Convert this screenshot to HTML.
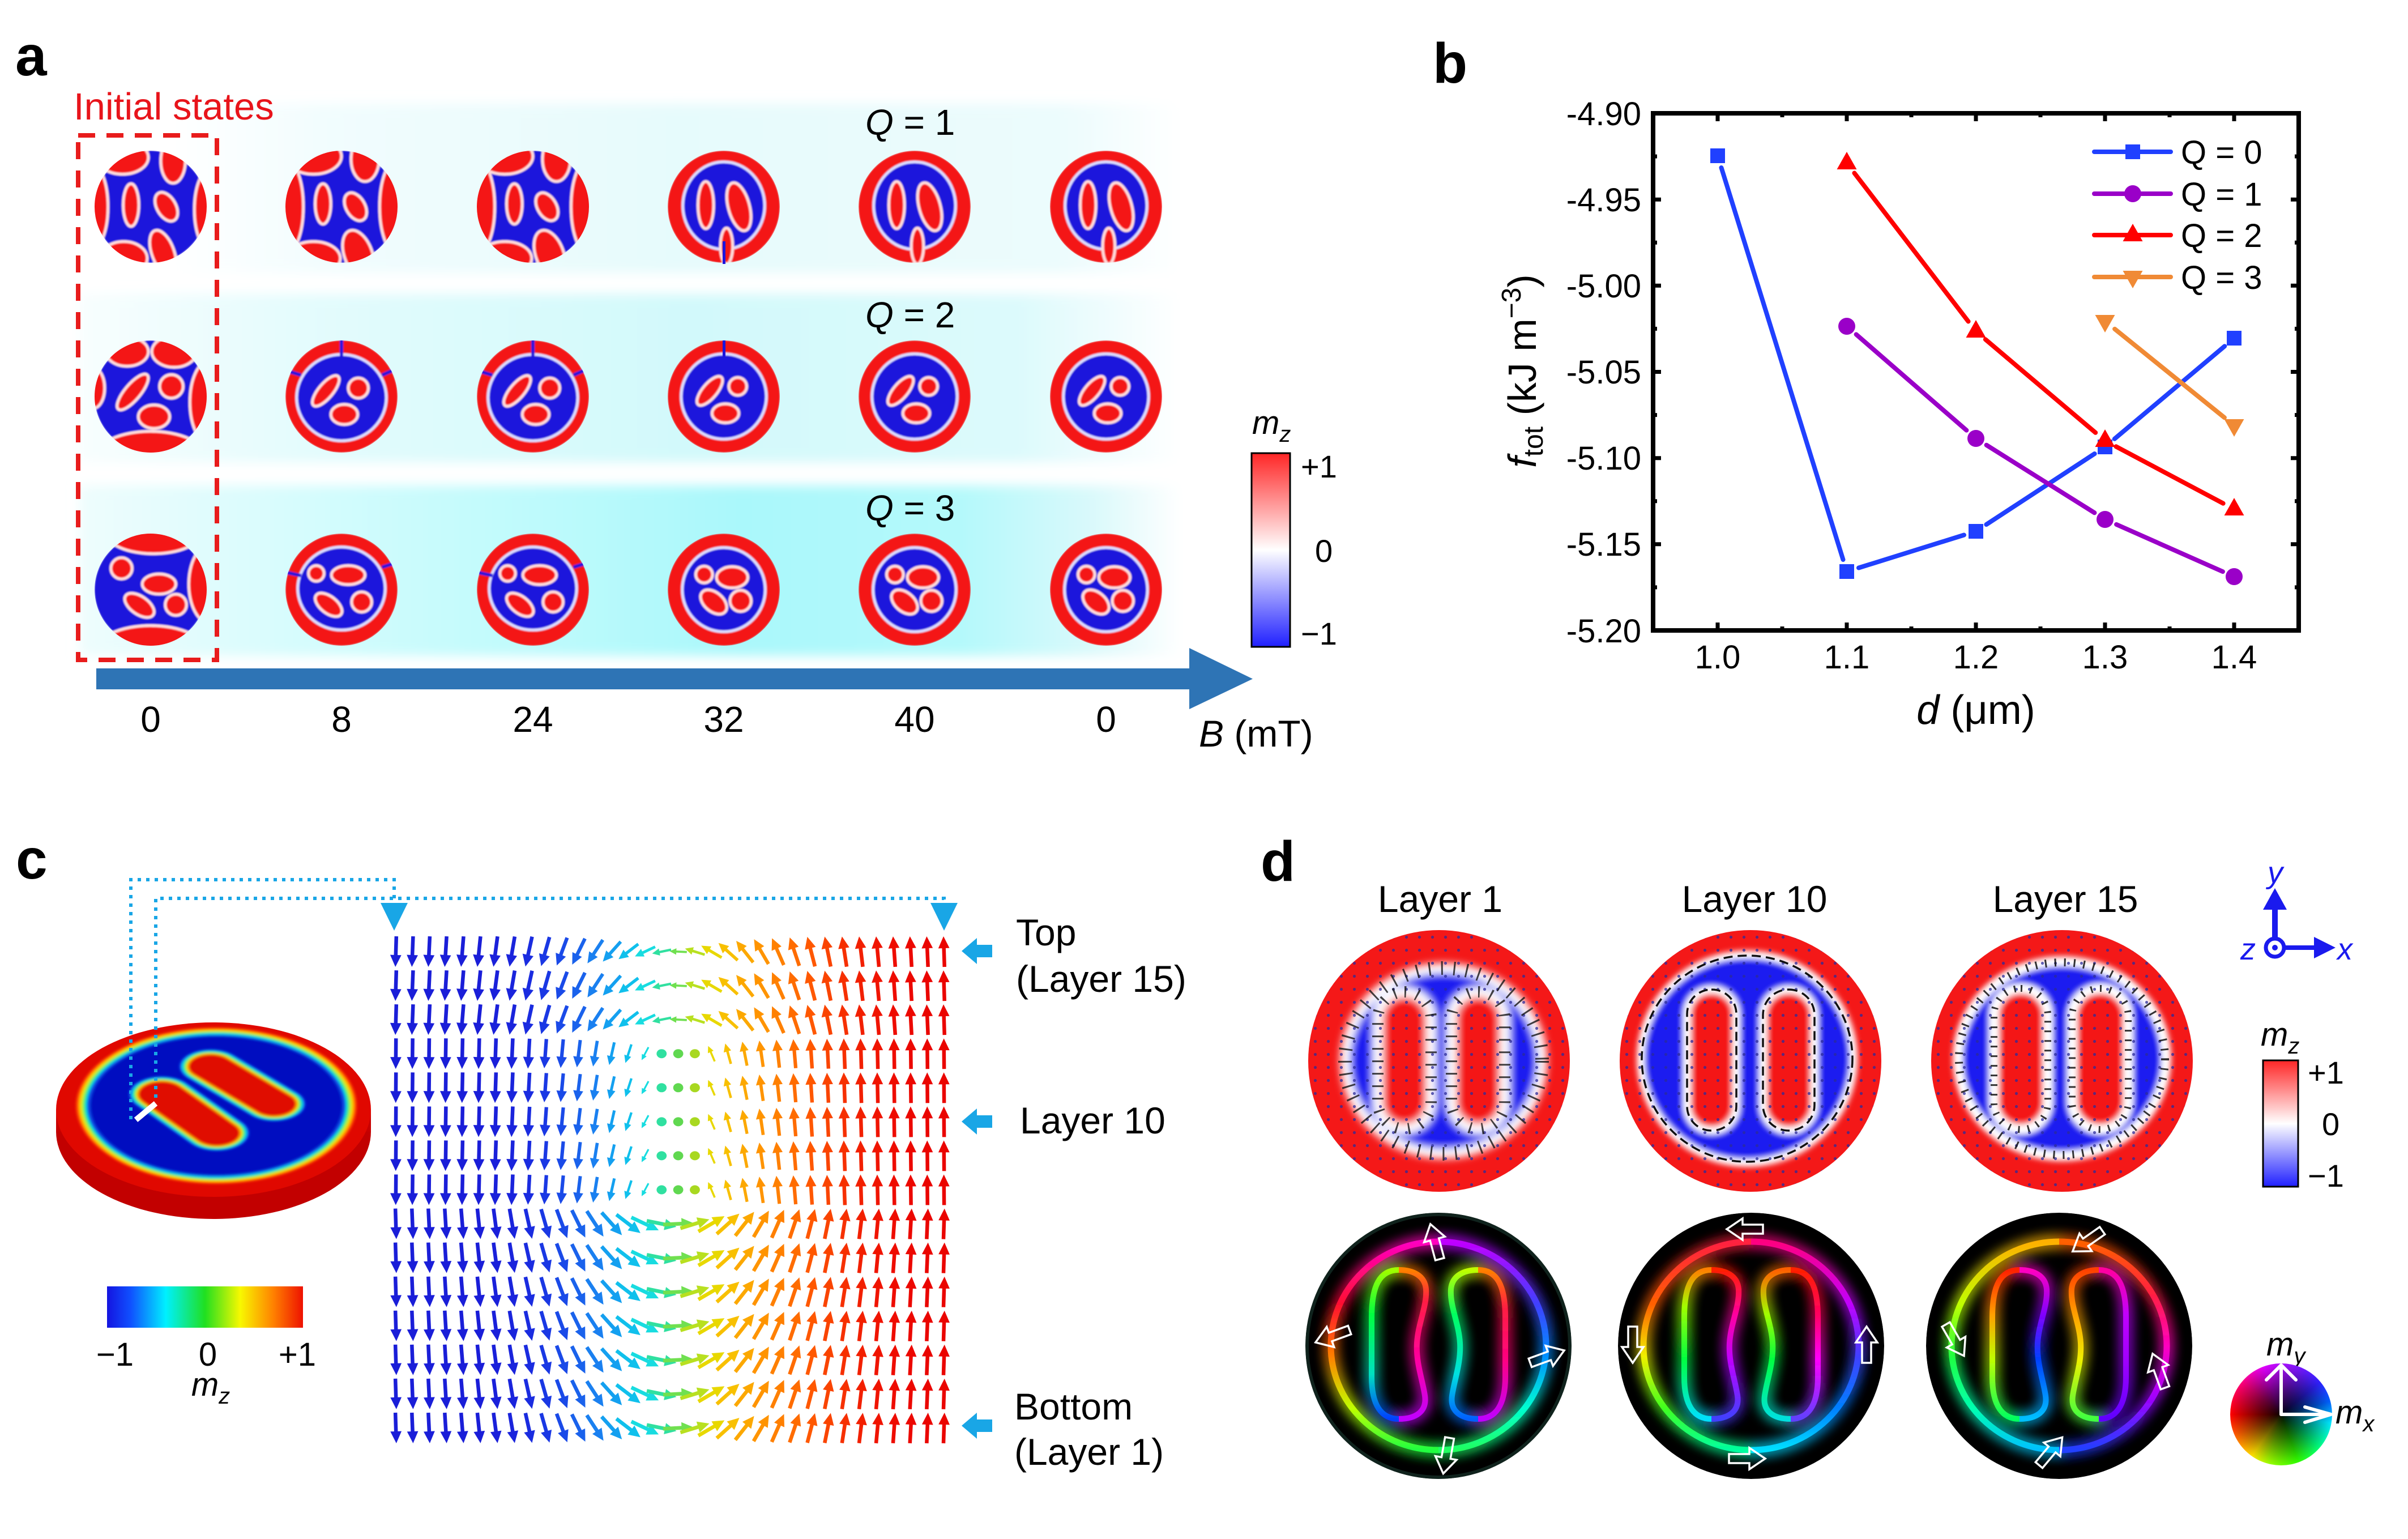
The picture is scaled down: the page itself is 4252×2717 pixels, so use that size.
<!DOCTYPE html>
<html><head><meta charset="utf-8"><style>
html,body{margin:0;padding:0;background:#fff;width:4252px;height:2717px;overflow:hidden}
svg{position:absolute;left:0;top:0}
#wheel{position:absolute;left:3938px;top:2407px;width:180px;height:180px;border-radius:50%;
background:radial-gradient(circle closest-side,rgba(0,0,0,.95) 0%,rgba(0,0,0,.55) 45%,rgba(0,0,0,0) 100%),conic-gradient(from 0deg,#b010ff,#3020ff 50deg,#0060ff 75deg,#00e8ff 100deg,#00ff80 130deg,#30ff00 160deg,#a0ff00 195deg,#ffe000 215deg,#ff6000 245deg,#ff0000 270deg,#ff0080 310deg,#e000ff 340deg,#b010ff)}
</style></head><body>
<svg width="4252" height="2717" viewBox="0 0 4252 2717" font-family="Liberation Sans, Arial, sans-serif">
<style>
.R{fill:#f41616;stroke:#ffdcdc;stroke-width:5}
.B{fill:#1c14dc;stroke:#dcdcff;stroke-width:5}
</style>
<defs>
<linearGradient id="bandA" x1="0" x2="1" y1="0" y2="0"><stop offset="0" stop-color="#fff"/><stop offset="0.15" stop-color="#f2fdfe"/><stop offset="0.5" stop-color="#e6fbfc"/><stop offset="0.88" stop-color="#ecfcfd"/><stop offset="1" stop-color="#fff"/></linearGradient>
<linearGradient id="bandB" x1="0" x2="1" y1="0" y2="0"><stop offset="0" stop-color="#f8fefe"/><stop offset="0.2" stop-color="#e4fcfd"/><stop offset="0.55" stop-color="#d2f9fb"/><stop offset="0.85" stop-color="#dcfafc"/><stop offset="1" stop-color="#fff"/></linearGradient>
<linearGradient id="bandC" x1="0" x2="1" y1="0" y2="0"><stop offset="0" stop-color="#eefdfd"/><stop offset="0.25" stop-color="#d0fcfd"/><stop offset="0.6" stop-color="#aaf8fb"/><stop offset="0.8" stop-color="#b4f9fb"/><stop offset="0.92" stop-color="#daf9fb"/><stop offset="1" stop-color="#fff"/></linearGradient>
<filter id="fb" x="-5%" y="-20%" width="110%" height="140%"><feGaussianBlur stdDeviation="10"/></filter>
<filter id="sb"><feGaussianBlur stdDeviation="1.3"/></filter>
<filter id="bl7" x="-10%" y="-10%" width="120%" height="120%"><feGaussianBlur stdDeviation="7"/></filter>
<filter id="bl5" x="-10%" y="-10%" width="120%" height="120%"><feGaussianBlur stdDeviation="5"/></filter>
<filter id="bl2"><feGaussianBlur stdDeviation="2"/></filter>
<filter id="glow" x="-30%" y="-30%" width="160%" height="160%"><feGaussianBlur stdDeviation="12" result="b"/><feMerge><feMergeNode in="b"/><feMergeNode in="b"/><feMergeNode in="SourceGraphic"/></feMerge></filter>
<linearGradient id="cbRWB" x1="0" y1="0" x2="0" y2="1"><stop offset="0" stop-color="#ff2626"/><stop offset="0.5" stop-color="#ffffff"/><stop offset="1" stop-color="#2020ff"/></linearGradient>
<linearGradient id="cbJet" x1="0" y1="0" x2="1" y2="0"><stop offset="0" stop-color="#1414e0"/><stop offset="0.12" stop-color="#1050ff"/><stop offset="0.3" stop-color="#00f0ff"/><stop offset="0.5" stop-color="#20e020"/><stop offset="0.68" stop-color="#f8f800"/><stop offset="0.85" stop-color="#ff8000"/><stop offset="1" stop-color="#ee1100"/></linearGradient>
<pattern id="dots" width="23" height="23" patternUnits="userSpaceOnUse"><circle cx="11.5" cy="11.5" r="2.6" fill="#2a2a9a" opacity="0.75"/></pattern>
<clipPath id="cA"><circle r="100"/></clipPath>
<clipPath id="cD"><circle r="231"/></clipPath>
<clipPath id="cDB"><circle r="235"/></clipPath>
<clipPath id="cxL"><rect x="-300" y="-300" width="300" height="600"/></clipPath>
<clipPath id="cxR"><rect x="0" y="-300" width="300" height="600"/></clipPath>
<clipPath id="caL"><rect x="-300" y="-300" width="230" height="600"/></clipPath>
<clipPath id="caR"><rect x="-70" y="-300" width="370" height="600"/></clipPath>
<clipPath id="cbL"><rect x="-300" y="-300" width="370" height="600"/></clipPath>
<clipPath id="cbR"><rect x="70" y="-300" width="230" height="600"/></clipPath>

<g id="q1a" clip-path="url(#cA)"><g filter="url(#sb)">
<circle r="100" fill="#1c14dc"/>
<ellipse cx="-50" cy="-88" rx="46" ry="30" class="R"/>
<ellipse cx="40" cy="-82" rx="22" ry="40" class="R"/>
<ellipse cx="-104" cy="0" rx="28" ry="75" class="R"/>
<ellipse cx="104" cy="5" rx="26" ry="70" class="R"/>
<ellipse cx="-48" cy="92" rx="42" ry="30" class="R"/>
<ellipse cx="22" cy="82" rx="20" ry="42" transform="rotate(-20 22 82)" class="R"/>
<ellipse cx="-35" cy="-3" rx="14" ry="38" class="R"/>
<ellipse cx="28" cy="0" rx="17" ry="28" transform="rotate(-30 28 0)" class="R"/>
</g></g>
<g id="q1b" clip-path="url(#cA)"><g filter="url(#sb)">
<circle r="100" fill="#1c14dc"/>
<ellipse cx="-100" cy="0" rx="32" ry="85" class="R"/>
<ellipse cx="100" cy="0" rx="32" ry="85" class="R"/>
<ellipse cx="-50" cy="-90" rx="50" ry="32" class="R"/>
<ellipse cx="42" cy="-85" rx="25" ry="40" class="R"/>
<ellipse cx="-50" cy="92" rx="48" ry="30" class="R"/>
<ellipse cx="30" cy="85" rx="25" ry="45" transform="rotate(-20 30 85)" class="R"/>
<ellipse cx="-33" cy="-5" rx="14" ry="36" class="R"/>
<ellipse cx="25" cy="0" rx="17" ry="27" transform="rotate(-30 25 0)" class="R"/>
</g></g>
<g id="q1c" clip-path="url(#cA)"><g filter="url(#sb)">
<circle r="100" fill="#f41616"/>
<ellipse cx="0" cy="-2" rx="73" ry="78" class="B"/>
<ellipse cx="5" cy="70" rx="11" ry="32" class="R"/>
<ellipse cx="-32" cy="-3" rx="14" ry="42" class="R"/>
<ellipse cx="27" cy="0" rx="19" ry="44" transform="rotate(-15 27 0)" class="R"/>
</g></g>
<g id="q2a" clip-path="url(#cA)"><g filter="url(#sb)">
<circle r="100" fill="#1c14dc"/>
<ellipse cx="-42" cy="-80" rx="38" ry="26" class="R"/>
<ellipse cx="42" cy="-80" rx="40" ry="28" class="R"/>
<ellipse cx="-102" cy="-15" rx="20" ry="36" class="R"/>
<ellipse cx="102" cy="10" rx="32" ry="72" class="R"/>
<ellipse cx="0" cy="108" rx="98" ry="46" class="R"/>
<ellipse cx="-32" cy="-8" rx="14" ry="40" transform="rotate(40 -32 -8)" class="R"/>
<circle cx="37" cy="-18" r="21" class="R"/>
<ellipse cx="6" cy="36" rx="28" ry="21" class="R"/>
</g></g>
<g id="q2b" clip-path="url(#cA)"><g filter="url(#sb)">
<circle r="100" fill="#f41616"/>
<ellipse cx="0" cy="2" rx="80" ry="77" class="B"/>
<rect x="-3" y="-102" width="6" height="34" fill="#1c14dc"/>
<path d="M-72,-38 L-104,-48" stroke="#1c14dc" stroke-width="6"/>
<path d="M72,-38 L104,-52" stroke="#1c14dc" stroke-width="6"/>
<ellipse cx="-28" cy="-10" rx="13" ry="34" transform="rotate(40 -28 -10)" class="R"/>
<circle cx="30" cy="-15" r="18" class="R"/>
<ellipse cx="5" cy="32" rx="24" ry="18" class="R"/>
</g></g>
<g id="q2c" clip-path="url(#cA)"><g filter="url(#sb)">
<circle r="100" fill="#f41616"/>
<ellipse cx="0" cy="0" rx="76" ry="76" class="B"/>
<ellipse cx="-25" cy="-10" rx="13" ry="32" transform="rotate(40 -25 -10)" class="R"/>
<circle cx="25" cy="-18" r="16" class="R"/>
<ellipse cx="3" cy="30" rx="24" ry="17" class="R"/>
</g></g>
<g id="q3a" clip-path="url(#cA)"><g filter="url(#sb)">
<circle r="100" fill="#1c14dc"/>
<ellipse cx="5" cy="-102" rx="85" ry="38" class="R"/>
<ellipse cx="106" cy="-10" rx="38" ry="70" class="R"/>
<ellipse cx="0" cy="112" rx="100" ry="48" class="R"/>
<circle cx="-52" cy="-38" r="19" class="R"/>
<ellipse cx="15" cy="-10" rx="30" ry="18" class="R"/>
<ellipse cx="-20" cy="28" rx="30" ry="16" transform="rotate(35 -20 28)" class="R"/>
<circle cx="45" cy="27" r="19" class="R"/>
</g></g>
<g id="q3b" clip-path="url(#cA)"><g filter="url(#sb)">
<circle r="100" fill="#f41616"/>
<ellipse cx="0" cy="-2" rx="78" ry="74" class="B"/>
<path d="M-72,-25 L-104,-32" stroke="#1c14dc" stroke-width="6"/>
<path d="M72,-40 L104,-50" stroke="#1c14dc" stroke-width="6"/>
<circle cx="-45" cy="-29" r="14" class="R"/>
<ellipse cx="12" cy="-26" rx="30" ry="17" class="R"/>
<ellipse cx="-23" cy="27" rx="28" ry="15" transform="rotate(38 -23 27)" class="R"/>
<circle cx="36" cy="22" r="18" class="R"/>
</g></g>
<g id="q3c" clip-path="url(#cA)"><g filter="url(#sb)">
<circle r="100" fill="#f41616"/>
<ellipse cx="0" cy="0" rx="74" ry="75" class="B"/>
<circle cx="-35" cy="-27" r="15" class="R"/>
<ellipse cx="15" cy="-22" rx="28" ry="19" class="R"/>
<ellipse cx="-18" cy="22" rx="27" ry="17" transform="rotate(40 -18 22)" class="R"/>
<circle cx="30" cy="20" r="19" class="R"/>
</g></g>

<path id="ar" d="M0,-27 L10,-6 L3.3,-6 L3.3,27 L-3.3,27 L-3.3,-6 L-10,-6 Z"/>

<g id="rowT">
<use href="#ar" transform="translate(702) rotate(181.8)" fill="#1a1ed8"/>
<use href="#ar" transform="translate(731.7) rotate(182.3)" fill="#1a1ed8"/>
<use href="#ar" transform="translate(761.3) rotate(182.8)" fill="#1a1ed8"/>
<use href="#ar" transform="translate(791) rotate(183.6)" fill="#1a1ed8"/>
<use href="#ar" transform="translate(820.7) rotate(184.7)" fill="#1a1ed8"/>
<use href="#ar" transform="translate(850.4) rotate(186)" fill="#1a1ed8"/>
<use href="#ar" transform="translate(880) rotate(187.7)" fill="#1a20da"/>
<use href="#ar" transform="translate(909.7) rotate(189.9)" fill="#1a24dc"/>
<use href="#ar" transform="translate(939.4) rotate(192.7)" fill="#1a2ce0"/>
<use href="#ar" transform="translate(969) rotate(196.2) scale(.99)" fill="#1a38e4"/>
<use href="#ar" transform="translate(998.7) rotate(200.7) scale(.97)" fill="#1a4ae8"/>
<use href="#ar" transform="translate(1028.4) rotate(206.4) scale(.95)" fill="#1a62ec"/>
<use href="#ar" transform="translate(1058) rotate(213.5) scale(.92)" fill="#1a80f0"/>
<use href="#ar" transform="translate(1087.7) rotate(222.3) scale(.88)" fill="#14a0f0"/>
<use href="#ar" transform="translate(1117.4) rotate(232.8) scale(.82)" fill="#10c0ec"/>
<use href="#ar" transform="translate(1147.1) rotate(245) scale(.74)" fill="#18dce0"/>
<use href="#ar" transform="translate(1176.7) rotate(258.6) scale(.64)" fill="#30e0a0"/>
<use href="#ar" transform="translate(1206.4) rotate(272.9) scale(.57)" fill="#70e050"/>
<use href="#ar" transform="translate(1236.1) rotate(-73.1) scale(.68)" fill="#b8e020"/>
<use href="#ar" transform="translate(1265.7) rotate(-60) scale(.78)" fill="#e8d800"/>
<use href="#ar" transform="translate(1295.4) rotate(-48.4) scale(.85)" fill="#f8c000"/>
<use href="#ar" transform="translate(1325.1) rotate(-38.6) scale(.9)" fill="#fca800"/>
<use href="#ar" transform="translate(1354.7) rotate(-30.5) scale(.94)" fill="#ff9400"/>
<use href="#ar" transform="translate(1384.4) rotate(-24) scale(.96)" fill="#ff8000"/>
<use href="#ar" transform="translate(1414.1) rotate(-18.8) scale(.98)" fill="#ff6c00"/>
<use href="#ar" transform="translate(1443.8) rotate(-14.7)" fill="#ff5800"/>
<use href="#ar" transform="translate(1473.4) rotate(-11.5)" fill="#fa4400"/>
<use href="#ar" transform="translate(1503.1) rotate(-8.9)" fill="#f63000"/>
<use href="#ar" transform="translate(1532.8) rotate(-7)" fill="#f22000"/>
<use href="#ar" transform="translate(1562.4) rotate(-5.4)" fill="#f01400"/>
<use href="#ar" transform="translate(1592.1) rotate(-4.2)" fill="#ee0c00"/>
<use href="#ar" transform="translate(1621.8) rotate(-3.3)" fill="#ec0800"/>
<use href="#ar" transform="translate(1651.4) rotate(-2.5)" fill="#ea0500"/>
<use href="#ar" transform="translate(1681.1) rotate(-1.9)" fill="#ea0500"/>
</g>

<g id="rowM">
<use href="#ar" transform="translate(702) rotate(180.5)" fill="#1a1ed8"/>
<use href="#ar" transform="translate(731.7) rotate(180.6)" fill="#1a1ed8"/>
<use href="#ar" transform="translate(761.3) rotate(180.7)" fill="#1a1ed8"/>
<use href="#ar" transform="translate(791) rotate(180.9)" fill="#1a1ed8"/>
<use href="#ar" transform="translate(820.7) rotate(181.2)" fill="#1a1ed8"/>
<use href="#ar" transform="translate(850.4) rotate(181.5)" fill="#1a1ed8"/>
<use href="#ar" transform="translate(880) rotate(182)" fill="#1a20da"/>
<use href="#ar" transform="translate(909.7) rotate(182.5)" fill="#1a24dc"/>
<use href="#ar" transform="translate(939.4) rotate(183.2) scale(.98)" fill="#1a2ce0"/>
<use href="#ar" transform="translate(969) rotate(184.2) scale(.96)" fill="#1a38e4"/>
<use href="#ar" transform="translate(998.7) rotate(185.4) scale(.94)" fill="#1a4ae8"/>
<use href="#ar" transform="translate(1028.4) rotate(187.1) scale(.9)" fill="#1a62ec"/>
<use href="#ar" transform="translate(1058) rotate(189.4) scale(.85)" fill="#1a80f0"/>
<use href="#ar" transform="translate(1087.7) rotate(192.8) scale(.76)" fill="#14a0f0"/>
<use href="#ar" transform="translate(1117.4) rotate(198.2) scale(.64)" fill="#10c0ec"/>
<use href="#ar" transform="translate(1147.1) rotate(208.3) scale(.48)" fill="#18dce0"/>
<ellipse cx="1176.7" cy="0" rx="9" ry="8" fill="#30e0a0"/>
<ellipse cx="1206.4" cy="0" rx="9" ry="8" fill="#60d850"/>
<ellipse cx="1236.1" cy="0" rx="9" ry="8" fill="#a8d820"/>
<use href="#ar" transform="translate(1265.7) rotate(-23.4) scale(.55)" fill="#e8d800"/>
<use href="#ar" transform="translate(1295.4) rotate(-15.7) scale(.69)" fill="#f8c000"/>
<use href="#ar" transform="translate(1325.1) rotate(-11.3) scale(.8)" fill="#fca800"/>
<use href="#ar" transform="translate(1354.7) rotate(-8.4) scale(.87)" fill="#ff9400"/>
<use href="#ar" transform="translate(1384.4) rotate(-6.3) scale(.92)" fill="#ff8000"/>
<use href="#ar" transform="translate(1414.1) rotate(-4.9) scale(.95)" fill="#ff6c00"/>
<use href="#ar" transform="translate(1443.8) rotate(-3.8) scale(.97)" fill="#ff5800"/>
<use href="#ar" transform="translate(1473.4) rotate(-2.9) scale(.98)" fill="#fa4400"/>
<use href="#ar" transform="translate(1503.1) rotate(-2.2)" fill="#f63000"/>
<use href="#ar" transform="translate(1532.8) rotate(-1.8)" fill="#f22000"/>
<use href="#ar" transform="translate(1562.4) rotate(-1.3)" fill="#f01400"/>
<use href="#ar" transform="translate(1592.1) rotate(-1)" fill="#ee0c00"/>
<use href="#ar" transform="translate(1621.8) rotate(-0.8)" fill="#ec0800"/>
<use href="#ar" transform="translate(1651.4) rotate(-0.6)" fill="#ea0500"/>
<use href="#ar" transform="translate(1681.1) rotate(-0.5)" fill="#ea0500"/>
</g>

<g id="rowB">
<use href="#ar" transform="translate(702) rotate(178.2)" fill="#1a1ed8"/>
<use href="#ar" transform="translate(731.7) rotate(177.7)" fill="#1a1ed8"/>
<use href="#ar" transform="translate(761.3) rotate(177.2)" fill="#1a1ed8"/>
<use href="#ar" transform="translate(791) rotate(176.4)" fill="#1a1ed8"/>
<use href="#ar" transform="translate(820.7) rotate(175.3)" fill="#1a1ed8"/>
<use href="#ar" transform="translate(850.4) rotate(174)" fill="#1a1ed8"/>
<use href="#ar" transform="translate(880) rotate(172.3)" fill="#1a20da"/>
<use href="#ar" transform="translate(909.7) rotate(170.1)" fill="#1a24dc"/>
<use href="#ar" transform="translate(939.4) rotate(167.3)" fill="#1a2ce0"/>
<use href="#ar" transform="translate(969) rotate(163.8)" fill="#1a38e4"/>
<use href="#ar" transform="translate(998.7) rotate(159.3)" fill="#1a4ae8"/>
<use href="#ar" transform="translate(1028.4) rotate(153.6)" fill="#1a62ec"/>
<use href="#ar" transform="translate(1058) rotate(146.5)" fill="#1a80f0"/>
<use href="#ar" transform="translate(1087.7) rotate(137.7)" fill="#14a0f0"/>
<use href="#ar" transform="translate(1117.4) rotate(127.2)" fill="#10c0ec"/>
<use href="#ar" transform="translate(1147.1) rotate(115)" fill="#18dce0"/>
<use href="#ar" transform="translate(1176.7) rotate(101.4)" fill="#30e0a0"/>
<use href="#ar" transform="translate(1206.4) rotate(87.1)" fill="#70e050"/>
<use href="#ar" transform="translate(1236.1) rotate(73.1)" fill="#b8e020"/>
<use href="#ar" transform="translate(1265.7) rotate(60)" fill="#e8d800"/>
<use href="#ar" transform="translate(1295.4) rotate(48.4)" fill="#f8c000"/>
<use href="#ar" transform="translate(1325.1) rotate(38.6)" fill="#fca800"/>
<use href="#ar" transform="translate(1354.7) rotate(30.5)" fill="#ff9400"/>
<use href="#ar" transform="translate(1384.4) rotate(24)" fill="#ff8000"/>
<use href="#ar" transform="translate(1414.1) rotate(18.8)" fill="#ff6c00"/>
<use href="#ar" transform="translate(1443.8) rotate(14.7)" fill="#ff5800"/>
<use href="#ar" transform="translate(1473.4) rotate(11.5)" fill="#fa4400"/>
<use href="#ar" transform="translate(1503.1) rotate(8.9)" fill="#f63000"/>
<use href="#ar" transform="translate(1532.8) rotate(7)" fill="#f22000"/>
<use href="#ar" transform="translate(1562.4) rotate(5.4)" fill="#f01400"/>
<use href="#ar" transform="translate(1592.1) rotate(4.2)" fill="#ee0c00"/>
<use href="#ar" transform="translate(1621.8) rotate(3.3)" fill="#ec0800"/>
<use href="#ar" transform="translate(1651.4) rotate(2.5)" fill="#ea0500"/>
<use href="#ar" transform="translate(1681.1) rotate(1.9)" fill="#ea0500"/>
</g>

<ellipse id="oLoop" rx="190" ry="184" fill="none" stroke-width="11"/>
<path id="aLoop" fill="none" stroke-width="10" d="M-70,-134 C-104,-134 -118,-106 -118,-50 L-118,55 C-118,106 -100,129 -70,129 C-40,129 -20,116 -24,88 C-28,60 -40,30 -38,-5 C-36,-40 -20,-70 -22,-100 C-24,-124 -45,-134 -70,-134 Z"/>
<path id="bLoop" fill="none" stroke-width="10" d="M70,-134 C104,-134 118,-106 118,-50 L118,55 C118,106 100,129 70,129 C40,129 20,116 24,88 C28,60 40,30 38,-5 C36,-40 20,-70 22,-100 C24,-124 45,-134 70,-134 Z"/>
<path id="hArr" d="M-32,-8 L4,-8 L4,-19 L32,0 L4,19 L4,8 L-32,8 Z" fill="none" stroke="#fff" stroke-width="3.5"/>

<linearGradient id="g1oL" x1="0" y1="0" x2="0" y2="1"><stop offset="0" stop-color="#ff00c0"/><stop offset=".3" stop-color="#ff1030"/><stop offset=".55" stop-color="#ff8000"/><stop offset=".8" stop-color="#c0ff00"/><stop offset="1" stop-color="#20ff40"/></linearGradient>
<linearGradient id="g1oR" x1="0" y1="0" x2="0" y2="1"><stop offset="0" stop-color="#c000ff"/><stop offset=".3" stop-color="#4040ff"/><stop offset=".55" stop-color="#0090ff"/><stop offset=".8" stop-color="#00ffd0"/><stop offset="1" stop-color="#20ff60"/></linearGradient>
<linearGradient id="g1aL" x1="0" y1="0" x2="0" y2="1"><stop offset="0" stop-color="#a0ff00"/><stop offset=".3" stop-color="#00ff40"/><stop offset=".7" stop-color="#00e0c0"/><stop offset="1" stop-color="#0040ff"/></linearGradient>
<linearGradient id="g1aR" x1="0" y1="0" x2="0" y2="1"><stop offset="0" stop-color="#ff8000"/><stop offset=".2" stop-color="#ff2040"/><stop offset=".6" stop-color="#ff00a0"/><stop offset="1" stop-color="#c000ff"/></linearGradient>
<linearGradient id="g1bL" x1="0" y1="0" x2="0" y2="1"><stop offset="0" stop-color="#c0ff00"/><stop offset=".3" stop-color="#00ff60"/><stop offset=".7" stop-color="#00e0e0"/><stop offset="1" stop-color="#0060ff"/></linearGradient>
<linearGradient id="g1bR" x1="0" y1="0" x2="0" y2="1"><stop offset="0" stop-color="#ff8000"/><stop offset=".25" stop-color="#ff2040"/><stop offset=".6" stop-color="#ff0080"/><stop offset="1" stop-color="#c000ff"/></linearGradient>
<linearGradient id="g2oL" x1="0" y1="0" x2="0" y2="1"><stop offset="0" stop-color="#ff2040"/><stop offset=".3" stop-color="#ff6000"/><stop offset=".55" stop-color="#f0f000"/><stop offset=".8" stop-color="#40ff20"/><stop offset="1" stop-color="#00ffa0"/></linearGradient>
<linearGradient id="g2oR" x1="0" y1="0" x2="0" y2="1"><stop offset="0" stop-color="#ff0080"/><stop offset=".3" stop-color="#c000ff"/><stop offset=".55" stop-color="#4040ff"/><stop offset=".8" stop-color="#0080ff"/><stop offset="1" stop-color="#00e0ff"/></linearGradient>
<linearGradient id="g2aL" x1="0" y1="0" x2="0" y2="1"><stop offset="0" stop-color="#ff8000"/><stop offset=".25" stop-color="#a0ff00"/><stop offset=".6" stop-color="#00ff40"/><stop offset="1" stop-color="#00e0ff"/></linearGradient>
<linearGradient id="g2aR" x1="0" y1="0" x2="0" y2="1"><stop offset="0" stop-color="#ff2000"/><stop offset=".3" stop-color="#ff00a0"/><stop offset=".6" stop-color="#c000ff"/><stop offset="1" stop-color="#4040ff"/></linearGradient>
<linearGradient id="g2bL" x1="0" y1="0" x2="0" y2="1"><stop offset="0" stop-color="#ff6000"/><stop offset=".3" stop-color="#a0ff00"/><stop offset=".6" stop-color="#00ff40"/><stop offset="1" stop-color="#00e0e0"/></linearGradient>
<linearGradient id="g2bR" x1="0" y1="0" x2="0" y2="1"><stop offset="0" stop-color="#ff2000"/><stop offset=".3" stop-color="#ff0060"/><stop offset=".6" stop-color="#ff00ff"/><stop offset="1" stop-color="#6040ff"/></linearGradient>
<linearGradient id="g3oL" x1="0" y1="0" x2="0" y2="1"><stop offset="0" stop-color="#ffb000"/><stop offset=".3" stop-color="#c0ff00"/><stop offset=".55" stop-color="#20ff40"/><stop offset=".8" stop-color="#00ffb0"/><stop offset="1" stop-color="#00c0ff"/></linearGradient>
<linearGradient id="g3oR" x1="0" y1="0" x2="0" y2="1"><stop offset="0" stop-color="#ff6000"/><stop offset=".25" stop-color="#ff2040"/><stop offset=".5" stop-color="#ff00c0"/><stop offset=".75" stop-color="#a000ff"/><stop offset="1" stop-color="#2040ff"/></linearGradient>
<linearGradient id="g3aL" x1="0" y1="0" x2="0" y2="1"><stop offset="0" stop-color="#ff2000"/><stop offset=".3" stop-color="#ffa000"/><stop offset=".6" stop-color="#c0ff00"/><stop offset="1" stop-color="#00ff60"/></linearGradient>
<linearGradient id="g3aR" x1="0" y1="0" x2="0" y2="1"><stop offset="0" stop-color="#ff00c0"/><stop offset=".3" stop-color="#8000ff"/><stop offset=".6" stop-color="#0040ff"/><stop offset="1" stop-color="#00c0ff"/></linearGradient>
<linearGradient id="g3bL" x1="0" y1="0" x2="0" y2="1"><stop offset="0" stop-color="#ff4000"/><stop offset=".3" stop-color="#ffa000"/><stop offset=".6" stop-color="#f0f000"/><stop offset="1" stop-color="#40ff40"/></linearGradient>
<linearGradient id="g3bR" x1="0" y1="0" x2="0" y2="1"><stop offset="0" stop-color="#ff00a0"/><stop offset=".3" stop-color="#c000ff"/><stop offset=".6" stop-color="#a000ff"/><stop offset="1" stop-color="#6000ff"/></linearGradient>
</defs>

<!-- ================= PANEL A ================= -->
<g filter="url(#fb)">
<rect x="300" y="183" width="1786" height="299" fill="url(#bandA)"/>
<rect x="140" y="519" width="1946" height="297" fill="url(#bandB)"/>
<rect x="140" y="857" width="1946" height="301" fill="url(#bandC)"/>
</g>
<text x="27" y="133" font-size="100" font-weight="bold">a</text>
<text x="130" y="211" font-size="67" fill="#e8141b">Initial states</text>
<text x="1528" y="238" font-size="64"><tspan font-style="italic">Q</tspan> = 1</text>
<text x="1528" y="578" font-size="64"><tspan font-style="italic">Q</tspan> = 2</text>
<text x="1528" y="919" font-size="64"><tspan font-style="italic">Q</tspan> = 3</text>

<use href="#q1a" transform="translate(266,365) scale(.99)"/>
<use href="#q1b" transform="translate(603,365) scale(.99)"/>
<use href="#q1b" transform="translate(941,365) scale(.99)"/>
<use href="#q1c" transform="translate(1278,365) scale(.99)"/>
<rect x="1276" y="426" width="5" height="40" fill="#1c14dc"/>
<use href="#q1c" transform="translate(1615,365) scale(.99)"/>
<use href="#q1c" transform="translate(1953,365) scale(.99)"/>

<use href="#q2a" transform="translate(266,700) scale(.99)"/>
<use href="#q2b" transform="translate(603,700) scale(.99)"/>
<use href="#q2b" transform="translate(941,700) scale(.99)"/>
<use href="#q2c" transform="translate(1278,700) scale(.99)"/>
<rect x="1276" y="601" width="5" height="30" fill="#1c14dc"/>
<use href="#q2c" transform="translate(1615,700) scale(.99)"/>
<use href="#q2c" transform="translate(1953,700) scale(.99)"/>

<use href="#q3a" transform="translate(266,1041) scale(.99)"/>
<use href="#q3b" transform="translate(603,1041) scale(.99)"/>
<use href="#q3b" transform="translate(941,1041) scale(.99)"/>
<use href="#q3c" transform="translate(1278,1041) scale(.99)"/>
<use href="#q3c" transform="translate(1615,1041) scale(.99)"/>
<use href="#q3c" transform="translate(1953,1041) scale(.99)"/>

<rect x="138" y="239" width="245" height="926" fill="none" stroke="#e81c1c" stroke-width="8" stroke-dasharray="30 20"/>
<rect x="170" y="1180" width="1935" height="37" fill="#2e74b5"/>
<polygon points="2100,1144 2212,1198.5 2100,1252" fill="#2e74b5"/>
<g font-size="64" text-anchor="middle">
<text x="266" y="1292">0</text><text x="603" y="1292">8</text><text x="941" y="1292">24</text>
<text x="1278" y="1292">32</text><text x="1615" y="1292">40</text><text x="1953" y="1292">0</text>
</g>
<text x="2117" y="1318" font-size="66"><tspan font-style="italic">B</tspan> (mT)</text>

<text x="2211" y="766" font-size="58" font-style="italic">m<tspan font-size="40" dy="14">z</tspan></text>
<rect x="2210" y="800" width="68" height="342" fill="url(#cbRWB)" stroke="#000" stroke-width="3"/>
<g font-size="56"><text x="2297" y="843">+1</text><text x="2322" y="992">0</text><text x="2297" y="1138">−1</text></g>

<!-- ================= PANEL B ================= -->
<text x="2530" y="146" font-size="100" font-weight="bold">b</text>
<g stroke="#000" stroke-width="7">
<path d="M3033,1113 V1099 M3261,1113 V1099 M3489,1113 V1099 M3717,1113 V1099 M3945,1113 V1099"/>
<path d="M3033,200 V214 M3261,200 V214 M3489,200 V214 M3717,200 V214 M3945,200 V214"/>
<path d="M3147,1113 V1106 M3375,1113 V1106 M3603,1113 V1106 M3831,1113 V1106"/>
<path d="M3147,200 V207 M3375,200 V207 M3603,200 V207 M3831,200 V207"/>
<path d="M2919,352.2 H2933 M2919,504.3 H2933 M2919,656.5 H2933 M2919,808.7 H2933 M2919,960.8 H2933"/>
<path d="M4059,352.2 H4045 M4059,504.3 H4045 M4059,656.5 H4045 M4059,808.7 H4045 M4059,960.8 H4045"/>
<path d="M2919,276.1 H2926 M2919,428.3 H2926 M2919,580.4 H2926 M2919,732.6 H2926 M2919,884.8 H2926 M2919,1036.9 H2926"/>
<path d="M4059,276.1 H4052 M4059,428.3 H4052 M4059,580.4 H4052 M4059,732.6 H4052 M4059,884.8 H4052 M4059,1036.9 H4052"/>
</g>
<rect x="2919" y="200" width="1140" height="913" fill="none" stroke="#000" stroke-width="8"/>
<g font-size="58" text-anchor="end">
<text x="2898" y="221">-4.90</text><text x="2898" y="373">-4.95</text><text x="2898" y="525">-5.00</text>
<text x="2898" y="677">-5.05</text><text x="2898" y="829">-5.10</text><text x="2898" y="981">-5.15</text>
<text x="2898" y="1134">-5.20</text>
</g>
<g font-size="58" text-anchor="middle">
<text x="3033" y="1180">1.0</text><text x="3261" y="1180">1.1</text><text x="3489" y="1180">1.2</text>
<text x="3717" y="1180">1.3</text><text x="3945" y="1180">1.4</text>
</g>
<text x="3489" y="1278" font-size="72" text-anchor="middle"><tspan font-style="italic">d</tspan> (μm)</text>
<text transform="translate(2712,655) rotate(-90)" font-size="70" text-anchor="middle"><tspan font-style="italic">f</tspan><tspan font-size="48" dy="12">tot</tspan><tspan dy="-12"> (kJ m</tspan><tspan font-size="48" dy="-27">−3</tspan><tspan dy="27">)</tspan></text>

<g stroke-width="8" stroke-linecap="round" fill="none">
<path stroke="#2040ff" d="M3039.5,296 L3254.5,988 M3282,1002.5 L3468,944.5 M3507.4,926 L3698.6,801 M3733.8,774.8 L3928.2,611.2"/>
<path stroke="#9a00c8" d="M3277.6,590.4 L3472.4,759.6 M3507.6,785.7 L3698.4,905.3 M3737.1,925.9 L3924.9,1009.1"/>
<path stroke="#ff0000" d="M3274.4,305.5 L3475.6,567.5 M3505.8,599.2 L3700.2,763.8 M3736.4,788.3 L3925.6,888.7"/>
<path stroke="#f08a35" d="M3734.1,580.8 L3927.9,737.2"/>
</g>
<g fill="#2040ff">
<rect x="3020" y="262" width="26" height="26"/><rect x="3248" y="996" width="26" height="26"/>
<rect x="3476" y="925" width="26" height="26"/><rect x="3704" y="776" width="26" height="26"/>
<rect x="3932" y="584" width="26" height="26"/>
</g>
<g fill="#9a00c8">
<circle cx="3261" cy="576" r="15"/><circle cx="3489" cy="774" r="15"/><circle cx="3717" cy="917" r="15"/><circle cx="3945" cy="1018" r="15"/>
</g>
<g fill="#ff0000">
<polygon points="3261,268 3278.5,299 3243.5,299"/><polygon points="3489,565 3506.5,596 3471.5,596"/>
<polygon points="3717,758 3734.5,789 3699.5,789"/><polygon points="3945,879 3962.5,910 3927.5,910"/>
</g>
<g fill="#f08a35">
<polygon points="3717,587 3734.5,556 3699.5,556"/><polygon points="3945,771 3962.5,740 3927.5,740"/>
</g>
<g stroke-width="8" stroke-linecap="round">
<path d="M3698,268 H3833" stroke="#2040ff"/><path d="M3698,342 H3833" stroke="#9a00c8"/>
<path d="M3698,415 H3833" stroke="#ff0000"/><path d="M3698,489 H3833" stroke="#f08a35"/>
</g>
<rect x="3753" y="255" width="26" height="26" fill="#2040ff"/>
<circle cx="3766" cy="342" r="15" fill="#9a00c8"/>
<polygon points="3766,395 3783.5,426 3748.5,426" fill="#ff0000"/>
<polygon points="3766,509 3783.5,478 3748.5,478" fill="#f08a35"/>
<g font-size="58">
<text x="3851" y="289">Q = 0</text><text x="3851" y="363">Q = 1</text>
<text x="3851" y="436">Q = 2</text><text x="3851" y="510">Q = 3</text>
</g>

<!-- ================= PANEL C ================= -->
<text x="28" y="1551" font-size="100" font-weight="bold">c</text>
<ellipse cx="377" cy="1998" rx="278" ry="154" fill="#c20000"/>
<rect x="99" y="1959" width="556" height="39" fill="#c80000"/>
<ellipse cx="377" cy="1959" rx="278" ry="154" fill="#e00800"/>
<g transform="translate(382,1952)" filter="url(#bl2)">
<ellipse rx="248" ry="138" fill="#ff5000"/>
<ellipse rx="243" ry="135" fill="#ffc000"/>
<ellipse rx="239" ry="132" fill="#c0f020"/>
<ellipse rx="235" ry="130" fill="#30e880"/>
<ellipse rx="231" ry="128" fill="#00c8f0"/>
<ellipse rx="228" ry="125" fill="#0a40e0"/>
<ellipse rx="222" ry="122" fill="#0008c0"/>
</g>
<g filter="url(#bl2)">
<g transform="translate(334,1966) scale(1,0.55) rotate(52)">
<rect x="-119" y="-40" width="238" height="80" rx="40" fill="none" stroke="#0a40e0" stroke-width="36"/>
<rect x="-119" y="-40" width="238" height="80" rx="40" fill="none" stroke="#00c8f0" stroke-width="28"/>
<rect x="-119" y="-40" width="238" height="80" rx="40" fill="none" stroke="#30e880" stroke-width="21"/>
<rect x="-119" y="-40" width="238" height="80" rx="40" fill="none" stroke="#c0f020" stroke-width="14"/>
<rect x="-119" y="-40" width="238" height="80" rx="40" fill="none" stroke="#ffa000" stroke-width="8"/>
<rect x="-119" y="-40" width="238" height="80" rx="40" fill="#e00800"/>
</g>
<g transform="translate(428,1916) scale(1,0.55) rotate(47)">
<rect x="-120" y="-38" width="240" height="76" rx="38" fill="none" stroke="#0a40e0" stroke-width="36"/>
<rect x="-120" y="-38" width="240" height="76" rx="38" fill="none" stroke="#00c8f0" stroke-width="28"/>
<rect x="-120" y="-38" width="240" height="76" rx="38" fill="none" stroke="#30e880" stroke-width="21"/>
<rect x="-120" y="-38" width="240" height="76" rx="38" fill="none" stroke="#c0f020" stroke-width="14"/>
<rect x="-120" y="-38" width="240" height="76" rx="38" fill="none" stroke="#ffa000" stroke-width="8"/>
<rect x="-120" y="-38" width="240" height="76" rx="38" fill="#e00800"/>
</g>
</g>
<path d="M240,1977 L275,1948" stroke="#fff" stroke-width="10"/>
<g fill="none" stroke="#19a6e6" stroke-width="6" stroke-dasharray="6 9">
<path d="M231,1976 V1553 H696 V1592"/>
<path d="M275,1938 V1586 H1667 V1592"/>
</g>
<polygon points="672,1594 720,1594 696,1643" fill="#19a6e6"/>
<polygon points="1643,1594 1691,1594 1667,1643" fill="#19a6e6"/>
<use href="#rowT" transform="translate(5.04,1680) scale(0.98854,1)"/>
<use href="#rowT" transform="translate(5.04,1740.1) scale(0.98854,1)"/>
<use href="#rowT" transform="translate(5.04,1800.1) scale(0.98854,1)"/>
<use href="#rowM" transform="translate(5.04,1860.2) scale(0.98854,1)"/>
<use href="#rowM" transform="translate(5.04,1920.3) scale(0.98854,1)"/>
<use href="#rowM" transform="translate(5.04,1980.4) scale(0.98854,1)"/>
<use href="#rowM" transform="translate(5.04,2040.4) scale(0.98854,1)"/>
<use href="#rowM" transform="translate(5.04,2100.5) scale(0.98854,1)"/>
<use href="#rowB" transform="translate(5.04,2160.6) scale(0.98854,1)"/>
<use href="#rowB" transform="translate(5.04,2220.6) scale(0.98854,1)"/>
<use href="#rowB" transform="translate(5.04,2280.7) scale(0.98854,1)"/>
<use href="#rowB" transform="translate(5.04,2340.8) scale(0.98854,1)"/>
<use href="#rowB" transform="translate(5.04,2400.8) scale(0.98854,1)"/>
<use href="#rowB" transform="translate(5.04,2460.9) scale(0.98854,1)"/>
<use href="#rowB" transform="translate(5.04,2521) scale(0.98854,1)"/>
<g fill="#19a6e6">
<polygon points="1698,1679 1725,1656 1725,1668 1752,1668 1752,1690 1725,1690 1725,1702"/>
<polygon points="1698,1980 1725,1957 1725,1969 1752,1969 1752,1991 1725,1991 1725,2003"/>
<polygon points="1698,2517 1725,2494 1725,2506 1752,2506 1752,2528 1725,2528 1725,2540"/>
</g>
<g font-size="66">
<text x="1794" y="1669">Top</text>
<text x="1794" y="1751">(Layer 15)</text>
<text x="1801" y="2001">Layer 10</text>
<text x="1791" y="2506">Bottom</text>
<text x="1791" y="2586">(Layer 1)</text>
</g>
<rect x="189" y="2271" width="346" height="73" fill="url(#cbJet)"/>
<g font-size="58" text-anchor="middle">
<text x="203" y="2411">−1</text><text x="367" y="2411">0</text><text x="525" y="2411">+1</text>
<text x="372" y="2464" font-style="italic">m<tspan font-size="40" dy="14">z</tspan></text>
</g>

<!-- ================= PANEL D ================= -->
<text x="2226" y="1555" font-size="100" font-weight="bold">d</text>
<g font-size="66" text-anchor="middle">
<text x="2543" y="1610">Layer 1</text><text x="3098" y="1610">Layer 10</text><text x="3647" y="1610">Layer 15</text>
</g>

<g transform="translate(2541,1873)"><g clip-path="url(#cD)">
<circle r="234" fill="#f41818"/>
<g filter="url(#bl7)">
<ellipse cx="8" cy="0" rx="174" ry="164" fill="#1a1cf0" stroke="#fff" stroke-width="18"/>
<rect x="-108" y="-122" width="94" height="242" rx="47" fill="#f41818" stroke="#fff" stroke-width="18"/>
<rect x="22" y="-122" width="94" height="242" rx="47" fill="#f41818" stroke="#fff" stroke-width="18"/>
</g>
<circle r="234" fill="url(#dots)"/>
<g fill="none" stroke="#151515" opacity="0.8">
<ellipse cx="8" cy="0" rx="174" ry="164" stroke-width="24" stroke-dasharray="3 19"/>
<rect x="-108" y="-122" width="94" height="242" rx="47" stroke-width="20" stroke-dasharray="3 19"/>
<rect x="22" y="-122" width="94" height="242" rx="47" stroke-width="20" stroke-dasharray="3 19"/>
</g>
</g></g>

<g transform="translate(3091,1873)"><g clip-path="url(#cD)">
<circle r="234" fill="#f41818"/>
<g filter="url(#bl5)">
<ellipse cx="-6" cy="-4" rx="188" ry="184" fill="#1a1cf0" stroke="#fff" stroke-width="14"/>
<rect x="-112" y="-126" width="87" height="249" rx="43" fill="#f41818" stroke="#fff" stroke-width="14"/>
<rect x="22" y="-126" width="91" height="249" rx="45" fill="#f41818" stroke="#fff" stroke-width="14"/>
</g>
<circle r="234" fill="url(#dots)"/>
<g fill="none" stroke="#111" stroke-width="3.5" stroke-dasharray="16 9">
<ellipse cx="-6" cy="-4" rx="186" ry="182"/>
<rect x="-112" y="-126" width="87" height="249" rx="43"/>
<rect x="22" y="-126" width="91" height="249" rx="45"/>
</g>
</g></g>

<g transform="translate(3641,1873)"><g clip-path="url(#cD)">
<circle r="234" fill="#f41818"/>
<g filter="url(#bl5)">
<ellipse cx="0" cy="-4" rx="184" ry="172" fill="#1a1cf0" stroke="#fff" stroke-width="18"/>
<rect x="-120" y="-128" width="95" height="249" rx="47" fill="#f41818" stroke="#fff" stroke-width="18"/>
<rect x="18" y="-128" width="99" height="249" rx="49" fill="#f41818" stroke="#fff" stroke-width="18"/>
</g>
<circle r="234" fill="url(#dots)"/>
<g fill="none" stroke="#111" opacity="0.85">
<ellipse cx="0" cy="-4" rx="182" ry="170" stroke-width="14" stroke-dasharray="3 14"/>
<rect x="-120" y="-128" width="95" height="249" rx="47" stroke-width="12" stroke-dasharray="3 14"/>
<rect x="18" y="-128" width="99" height="249" rx="49" stroke-width="12" stroke-dasharray="3 14"/>
</g>
</g></g>

<g transform="translate(2540,2376)"><g clip-path="url(#cDB)">
<circle r="235" fill="#000"/>
<g filter="url(#glow)">
<use href="#oLoop" stroke="url(#g1oL)" clip-path="url(#cxL)"/>
<use href="#oLoop" stroke="url(#g1oR)" clip-path="url(#cxR)"/>
<use href="#aLoop" stroke="url(#g1aL)" clip-path="url(#caL)"/>
<use href="#aLoop" stroke="url(#g1aR)" clip-path="url(#caR)"/>
<use href="#bLoop" stroke="url(#g1bL)" clip-path="url(#cbL)"/>
<use href="#bLoop" stroke="url(#g1bR)" clip-path="url(#cbR)"/>
</g>
<circle r="232" fill="none" stroke="#1a3a30" stroke-width="6" opacity="0.6"/>
<use href="#hArr" transform="translate(-6,-184) rotate(-105)"/>
<use href="#hArr" transform="translate(-187,-17) rotate(160)"/>
<use href="#hArr" transform="translate(192,19) rotate(-20)"/>
<use href="#hArr" transform="translate(14,194) rotate(100)"/>
</g></g>

<g transform="translate(3092,2376)"><g clip-path="url(#cDB)">
<circle r="235" fill="#000"/>
<g filter="url(#glow)">
<use href="#oLoop" stroke="url(#g2oL)" clip-path="url(#cxL)"/>
<use href="#oLoop" stroke="url(#g2oR)" clip-path="url(#cxR)"/>
<use href="#aLoop" stroke="url(#g2aL)" clip-path="url(#caL)"/>
<use href="#aLoop" stroke="url(#g2aR)" clip-path="url(#caR)"/>
<use href="#bLoop" stroke="url(#g2bL)" clip-path="url(#cbL)"/>
<use href="#bLoop" stroke="url(#g2bR)" clip-path="url(#cbR)"/>
</g>
<use href="#hArr" transform="translate(-11,-206) rotate(180)"/>
<use href="#hArr" transform="translate(-209,-2) rotate(90)"/>
<use href="#hArr" transform="translate(204,-2) rotate(-90)"/>
<use href="#hArr" transform="translate(-7,199) rotate(0)"/>
</g></g>

<g transform="translate(3636,2376)"><g clip-path="url(#cDB)">
<circle r="235" fill="#000"/>
<g filter="url(#glow)">
<use href="#oLoop" stroke="url(#g3oL)" clip-path="url(#cxL)"/>
<use href="#oLoop" stroke="url(#g3oR)" clip-path="url(#cxR)"/>
<use href="#aLoop" stroke="url(#g3aL)" clip-path="url(#caL)"/>
<use href="#aLoop" stroke="url(#g3aR)" clip-path="url(#caR)"/>
<use href="#bLoop" stroke="url(#g3bL)" clip-path="url(#cbL)"/>
<use href="#bLoop" stroke="url(#g3bR)" clip-path="url(#cbR)"/>
</g>
<use href="#hArr" transform="translate(50,-185) rotate(145)"/>
<use href="#hArr" transform="translate(-184,-10) rotate(60)"/>
<use href="#hArr" transform="translate(176,44) rotate(-110)"/>
<use href="#hArr" transform="translate(-15,186) rotate(-50)"/>
</g></g>

<g fill="#1a1aee" stroke="#1a1aee">
<path d="M4017,1656 V1600" stroke-width="10" fill="none"/>
<polygon points="3996,1606 4038,1606 4017,1568" stroke="none"/>
<circle cx="4017" cy="1673" r="16" fill="none" stroke-width="7"/>
<circle cx="4017" cy="1673" r="5" stroke="none"/>
<path d="M4034,1673 H4090" stroke-width="8" fill="none"/>
<polygon points="4086,1654 4086,1692 4124,1673" stroke="none"/>
</g>
<g fill="#1a1aee" font-size="54" font-style="italic">
<text x="4004" y="1559">y</text>
<text x="3956" y="1694">z</text>
<text x="4127" y="1694">x</text>
</g>

<text x="3992" y="1846" font-size="58" font-style="italic">m<tspan font-size="40" dy="14">z</tspan></text>
<rect x="3996" y="1872" width="62" height="223" fill="url(#cbRWB)" stroke="#000" stroke-width="3"/>
<g font-size="56"><text x="4075" y="1913">+1</text><text x="4100" y="2004">0</text><text x="4075" y="2095">−1</text></g>

<text x="4002" y="2393" font-size="58" font-style="italic">m<tspan font-size="40" dy="14">y</tspan></text>
<text x="4124" y="2513" font-size="58" font-style="italic">m<tspan font-size="40" dy="14">x</tspan></text>
</svg>
<div id="wheel"></div>
<svg width="4252" height="2717" viewBox="0 0 4252 2717">
<g stroke="#fff" stroke-width="6" stroke-linecap="round" fill="none">
<path d="M4028,2497 V2410 M4028,2410 L4002,2436 M4028,2410 L4054,2436"/>
<path d="M4028,2497 H4116 M4116,2497 L4070,2484 M4116,2497 L4070,2511"/>
</g>
</svg>
</body></html>
